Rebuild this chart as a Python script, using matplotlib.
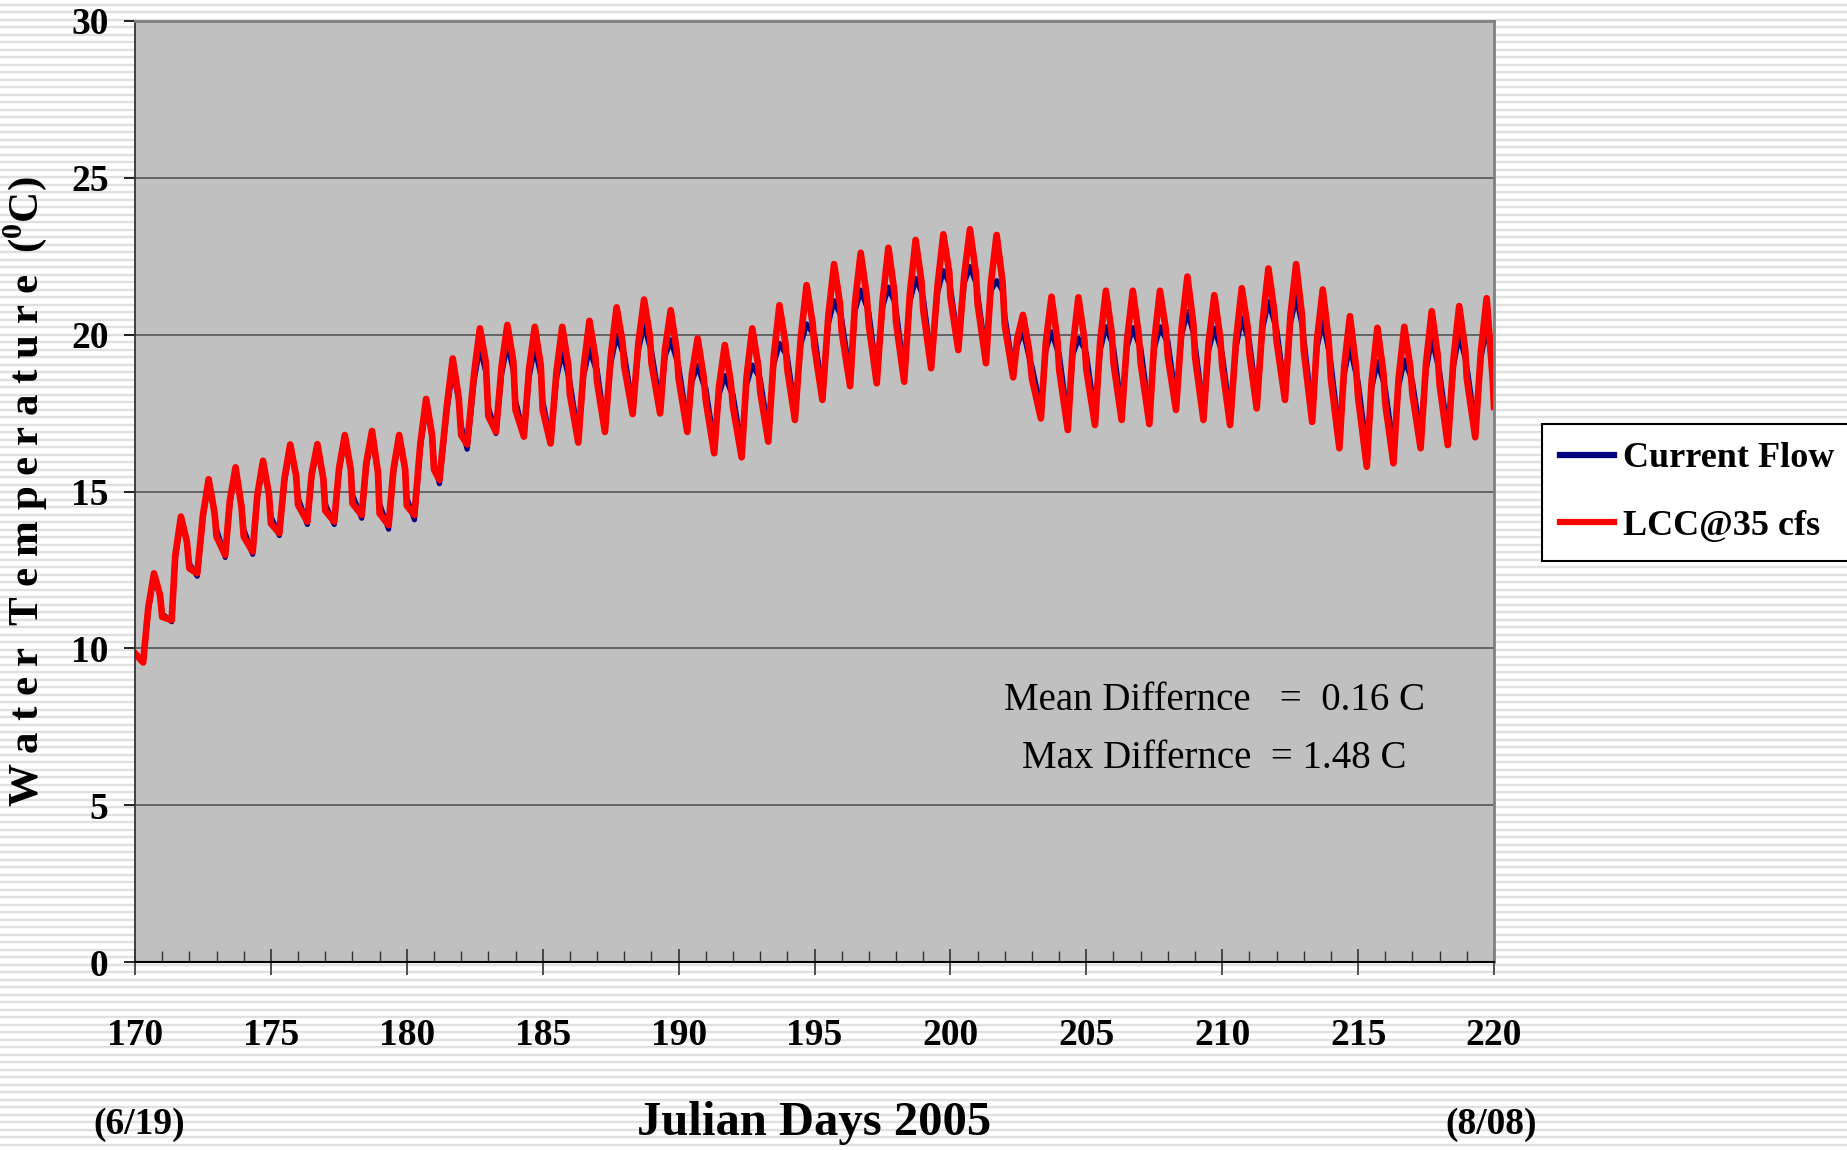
import numpy as np
import matplotlib
matplotlib.use("Agg")
import matplotlib.pyplot as plt
from matplotlib.ticker import MultipleLocator

plt.rcParams["font.family"] = ["Liberation Serif", "DejaVu Serif"]
plt.rcParams["font.weight"] = "bold"
plt.rcParams["axes.labelweight"] = "bold"
plt.rcParams["mathtext.fontset"] = "custom"
plt.rcParams["mathtext.rm"] = "Liberation Serif:bold"
plt.rcParams["mathtext.bf"] = "Liberation Serif:bold"

# water temperature read back off the logger plot, one cycle per day:
# morning low, shoulder before the peak, afternoon peak, shoulder after it,
# midnight value
start_day = [170.00]
start_current = [9.84]
start_lcc = [9.84]

trough_day = [170.30, 171.35, 172.29, 173.32, 174.33, 175.31, 176.34, 177.33, 178.34, 179.33,
              180.28, 181.20, 182.22, 183.28, 184.31, 185.29, 186.31, 187.29, 188.31, 189.32,
              190.32, 191.31, 192.32, 193.30, 194.28, 195.29, 196.31, 197.29, 198.30, 199.29,
              200.29, 201.31, 202.31, 203.33, 204.32, 205.32, 206.30, 207.32, 208.30, 209.31,
              210.29, 211.27, 212.31, 213.31, 214.31, 215.32, 216.30, 217.30, 218.30, 219.31]
peak_day = [170.70, 171.69, 172.71, 173.70, 174.71, 175.71, 176.71, 177.72, 178.72, 179.72,
            180.71, 181.69, 182.69, 183.70, 184.71, 185.72, 186.72, 187.72, 188.73, 189.71,
            190.70, 191.70, 192.71, 193.71, 194.71, 195.72, 196.70, 197.72, 198.72, 199.74,
            200.72, 201.70, 202.67, 203.72, 204.71, 205.72, 206.71, 207.71, 208.72, 209.71,
            210.72, 211.70, 212.72, 213.70, 214.70, 215.71, 216.70, 217.71, 218.72, 219.73]
mid_day = list(range(171, 221))
shoulder_before = 0.21   # days ahead of the peak
shoulder_after = 0.22    # days after the peak

lcc_trough = [9.55, 10.90, 12.39, 12.97, 13.08, 13.67, 14.04, 14.04, 14.25, 13.93,
              14.25, 15.37, 16.50, 16.90, 16.75, 16.53, 16.56, 16.90, 17.47, 17.49,
              16.90, 16.22, 16.09, 16.59, 17.28, 17.92, 18.36, 18.45, 18.50, 18.93,
              19.51, 19.09, 18.64, 17.33, 16.96, 17.12, 17.28, 17.15, 17.60, 17.28,
              17.12, 17.65, 17.92, 17.22, 16.38, 15.79, 15.90, 16.38, 16.48, 16.73]
lcc_pre = [11.31, 12.95, 14.25, 14.71, 14.88, 15.42, 15.57, 15.75, 15.91, 15.71,
           16.54, 17.77, 18.79, 19.01, 18.92, 18.84, 18.97, 19.36, 19.73, 19.53,
           18.75, 18.36, 18.64, 19.29, 19.95, 20.60, 21.00, 21.13, 21.30, 21.58,
           21.90, 21.63, 19.87, 19.74, 19.58, 19.77, 19.83, 19.79, 20.24, 19.75,
           19.82, 20.42, 20.60, 19.84, 18.99, 18.54, 18.60, 19.09, 19.23, 19.48]
lcc_peak = [12.39, 14.20, 15.39, 15.77, 15.98, 16.50, 16.51, 16.80, 16.93, 16.80,
            17.95, 19.24, 20.20, 20.31, 20.25, 20.25, 20.44, 20.87, 21.12, 20.78,
            19.88, 19.67, 20.20, 20.94, 21.58, 22.25, 22.61, 22.77, 23.02, 23.20,
            23.36, 23.18, 20.63, 21.21, 21.19, 21.40, 21.40, 21.40, 21.85, 21.26,
            21.48, 22.11, 22.25, 21.44, 20.59, 20.22, 20.25, 20.75, 20.91, 21.16]
lcc_post = [11.7, 13.4, 14.3, 14.5, 14.9, 15.5, 15.4, 15.7, 15.6, 15.7,
            16.8, 18.0, 19.11, 19.14, 19.02, 19.03, 19.27, 19.75, 19.92, 19.50,
            18.67, 18.49, 19.01, 19.73, 20.37, 20.97, 21.24, 21.36, 21.67, 21.98,
            21.95, 21.68, 19.54, 19.81, 19.85, 20.04, 20.00, 20.15, 20.34, 19.89,
            20.22, 20.73, 20.59, 19.77, 19.01, 18.79, 18.97, 19.34, 19.53, 18.6]
lcc_mid = [11.0, 12.55, 13.56, 13.56, 13.98, 14.57, 14.39, 14.62, 14.30, 14.55,
           15.7, 16.8, 17.4, 17.6, 17.6, 18.1, 18.5, 19.0, 19.1, 18.6,
           17.9, 17.7, 18.2, 18.9, 19.6, 20.1, 20.3, 20.4, 20.8, 21.2,
           21.0, 20.3, 18.6, 18.9, 18.9, 19.1, 19.1, 19.3, 19.3, 19.0,
           19.4, 19.8, 19.5, 18.6, 18.0, 17.8, 18.1, 18.4, 18.6, 17.7]

current_trough = [9.55, 10.85, 12.30, 12.90, 13.00, 13.60, 13.95, 13.95, 14.15, 13.80,
                  14.10, 15.25, 16.35, 16.85, 16.80, 16.60, 16.75, 17.10, 17.70, 17.75,
                  17.20, 16.50, 16.40, 16.90, 17.60, 18.20, 18.65, 18.75, 18.80, 19.20,
                  19.75, 19.35, 18.90, 17.65, 17.30, 17.45, 17.60, 17.50, 17.90, 17.60,
                  17.45, 17.95, 18.20, 17.55, 16.80, 16.30, 16.40, 16.80, 16.85, 17.10]
current_pre = [11.2, 12.85, 14.15, 14.6, 14.8, 15.3, 15.45, 15.65, 15.8, 15.6,
               16.4, 17.6, 18.55, 18.75, 18.65, 18.6, 18.7, 19.1, 19.5, 19.3,
               18.5, 18.1, 18.4, 19.05, 19.7, 20.35, 20.75, 20.9, 21.05, 21.35,
               21.65, 21.4, 19.65, 19.5, 19.35, 19.5, 19.6, 19.55, 20.0, 19.5,
               19.6, 20.2, 20.35, 19.6, 18.75, 18.3, 18.35, 18.85, 19.0, 19.25]
current_peak = [12.3, 14.1, 15.3, 15.7, 15.9, 16.4, 16.4, 16.7, 16.8, 16.7,
                17.7, 18.9, 19.6, 19.7, 19.6, 19.46, 19.56, 19.99, 20.31, 19.83,
                19.03, 18.69, 19.03, 19.72, 20.34, 21.08, 21.42, 21.51, 21.79, 22.04,
                22.17, 21.72, 20.15, 20.09, 19.88, 20.25, 20.22, 20.25, 20.73, 20.2,
                20.52, 21.05, 21.21, 20.41, 19.62, 19.14, 19.19, 19.88, 19.99, 20.25]
current_post = [11.7, 13.4, 14.3, 14.5, 14.9, 15.5, 15.4, 15.7, 15.6, 15.7,
                16.8, 17.9, 18.8, 18.85, 18.7, 18.7, 18.95, 19.45, 19.6, 19.2,
                18.4, 18.2, 18.7, 19.4, 20.05, 20.65, 20.9, 21.05, 21.35, 21.65,
                21.65, 21.4, 19.3, 19.5, 19.55, 19.75, 19.7, 19.85, 20.05, 19.6,
                19.9, 20.4, 20.3, 19.5, 18.75, 18.5, 18.7, 19.05, 19.25, 19.0]
current_mid = [11.1, 12.7, 13.8, 13.8, 14.2, 14.8, 14.6, 14.9, 14.6, 14.8,
               15.9, 17.1, 17.7, 17.9, 17.9, 18.5, 18.9, 19.4, 19.5, 19.0,
               18.3, 18.1, 18.6, 19.3, 20.0, 20.5, 20.7, 20.8, 21.2, 21.5,
               21.3, 20.6, 19.0, 19.4, 19.4, 19.6, 19.6, 19.8, 19.7, 19.4,
               19.8, 20.2, 19.9, 19.1, 18.5, 18.3, 18.5, 18.8, 19.0, 18.5]


def series(start, trough, pre, peak, post, mid):
    t = list(start_day)
    v = list(start)
    for i in range(len(peak_day)):
        t += [trough_day[i], peak_day[i] - shoulder_before, peak_day[i],
              peak_day[i] + shoulder_after, mid_day[i]]
        v += [trough[i], pre[i], peak[i], post[i], mid[i]]
    return t, v


W, H = 1847, 1150
fig = plt.figure(figsize=(W / 100, H / 100), dpi=100, facecolor="white")

# striped backdrop
bg = fig.add_axes([0, 0, 1, 1], zorder=-10)
bg.set_xlim(0, W)
bg.set_ylim(H, 0)
bg.hlines(np.arange(4.7, H, 7.5), 0, W, color="#e0e0e0", lw=1.7)
bg.axis("off")

ax = fig.add_axes([135 / W, 1 - 962 / H, 1359 / W, 941 / H], facecolor="#c0c0c0")

t, v = series(start_current, current_trough, current_pre, current_peak, current_post, current_mid)
ax.plot(t, v, color="#000080", lw=3.8, solid_joinstyle="round", label="Current Flow")
t, v = series(start_lcc, lcc_trough, lcc_pre, lcc_peak, lcc_post, lcc_mid)
ax.plot(t, v, color="#ff0000", lw=4.8, solid_joinstyle="round", label="LCC@35 cfs")

ax.set_xlim(170, 220)
ax.set_ylim(0, 30)
ax.xaxis.set_major_locator(MultipleLocator(5))
ax.xaxis.set_minor_locator(MultipleLocator(1))
ax.yaxis.set_major_locator(MultipleLocator(5))
ax.yaxis.grid(True, color="#555555", lw=1.2)
ax.set_axisbelow(True)

ax.spines["left"].set_color("#333333")
ax.spines["left"].set_linewidth(1.3)
ax.spines["bottom"].set_color("black")
ax.spines["bottom"].set_linewidth(1.5)
for s in ("top", "right"):
    ax.spines[s].set_color("#808080")
    ax.spines[s].set_linewidth(2)

ax.tick_params(axis="y", direction="out", length=8, width=1.2, pad=11, labelsize=27)
ax.tick_params(axis="x", which="major", direction="inout", length=19, width=1.2,
               pad=31, labelsize=27, color="#333333")
ax.tick_params(axis="x", which="minor", direction="in", length=8, width=1.0, color="#333333")

ax.set_xlabel("Julian Days 2005", fontsize=35, fontweight="bold", va="baseline")
ax.xaxis.set_label_coords(0.5, -(1135 - 962) / 941)
ax.set_ylabel("W a t e r  T e m p e r a t u r e  ($^{\\mathbf{0}}$C)", fontsize=31,
              fontweight="bold", va="center")
ax.yaxis.set_label_coords(-(135 - 25) / 1359, 0.5)

ax.text(170.15, -(1134 - 962) / 941, "(6/19)", transform=ax.get_xaxis_transform(),
        ha="center", va="baseline", fontsize=27)
ax.text(219.9, -(1134 - 962) / 941, "(8/08)", transform=ax.get_xaxis_transform(),
        ha="center", va="baseline", fontsize=27)

ax.text(209.7, 8.03, "Mean Differnce   =  0.16 C", ha="center", va="baseline",
        fontsize=28, fontweight="normal")
ax.text(209.7, 6.18, "Max Differnce  = 1.48 C", ha="center", va="baseline",
        fontsize=28, fontweight="normal")

leg = fig.legend(loc="upper left", bbox_to_anchor=(1542 / W, 1 - 424 / H),
                 frameon=True, fancybox=False, edgecolor="black", framealpha=1,
                 prop=dict(family="Liberation Serif", weight="bold", size=26),
                 handlelength=1.5, handletextpad=0.25, borderpad=0.5,
                 labelspacing=0.95, borderaxespad=0)
leg.get_frame().set_linewidth(1.5)
for line in leg.get_lines():
    line.set_linewidth(4.5)

fig.savefig("out.png", dpi=100, facecolor="white")
